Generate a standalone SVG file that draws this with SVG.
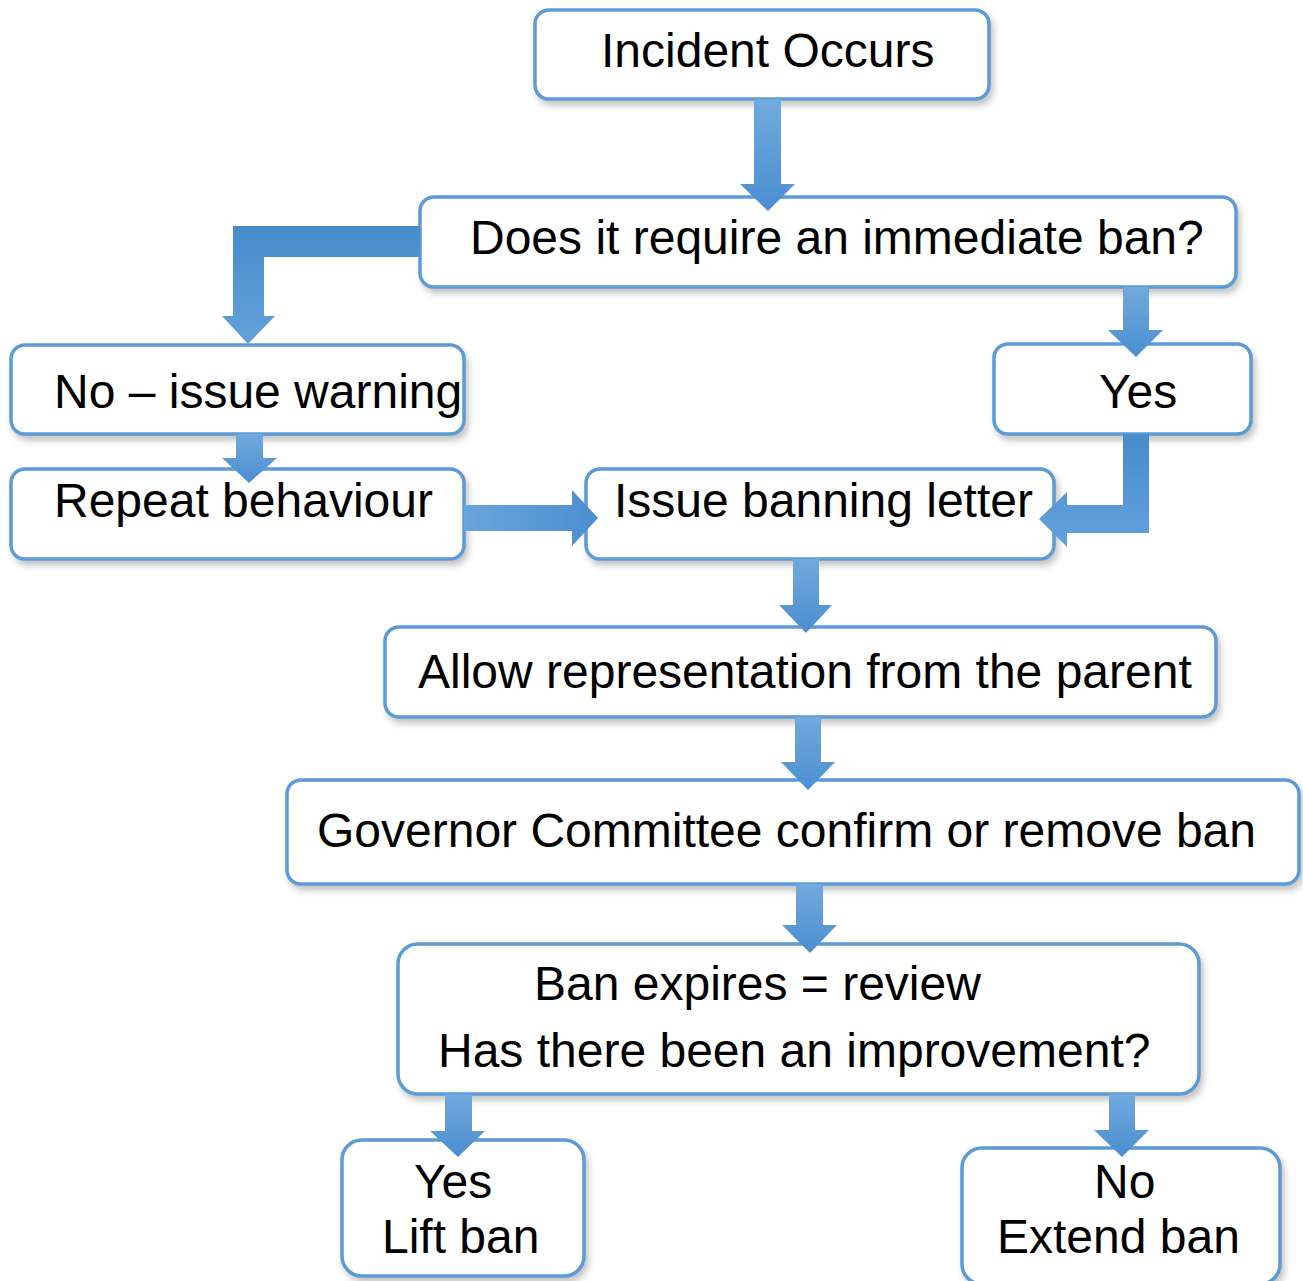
<svg xmlns="http://www.w3.org/2000/svg" width="1303" height="1281" viewBox="0 0 1303 1281">
<defs>
<filter id="sh" x="-5%" y="-10%" width="112%" height="130%">
<feDropShadow dx="3" dy="5" stdDeviation="3" flood-color="#7f7f7f" flood-opacity="0.45"/>
</filter>
<linearGradient id="gv" x1="0" y1="0" x2="0" y2="1">
<stop offset="0" stop-color="#72A9DD"/>
<stop offset="1" stop-color="#4A8ED0"/>
</linearGradient>
<linearGradient id="gh" x1="1" y1="0" x2="0" y2="0">
<stop offset="0" stop-color="#4A8ECF"/>
<stop offset="1" stop-color="#6AA5DC"/>
</linearGradient>
<linearGradient id="ge" x1="0" y1="0" x2="0" y2="1">
<stop offset="0" stop-color="#478BCB"/>
<stop offset="1" stop-color="#64A1DB"/>
</linearGradient>
</defs>
<style>
.box{fill:#fff;stroke:#5B9BD5;stroke-width:3.5;filter:url(#sh)}
.t{font-family:"Liberation Sans",Arial,sans-serif;font-size:48px;fill:#000}
.av{fill:url(#gv)}
.ah{fill:url(#gh)}
.ae{fill:url(#ge)}
</style>
<rect width="1303" height="1281" fill="#fff"/>
<g id="n1"><rect class="box" x="535" y="10" width="454" height="89" rx="14"/><text class="t" x="601" y="67">Incident Occurs</text></g>
<g id="n2"><rect class="box" x="420" y="197" width="816" height="90" rx="14"/><text class="t" x="470" y="254">Does it require an immediate ban?</text></g>
<g id="n3"><rect class="box" x="11" y="345" width="453" height="89" rx="14"/><text class="t" x="54" y="408">No – issue warning</text></g>
<g id="n4"><rect class="box" x="11" y="469" width="453" height="90" rx="14"/><text class="t" x="54" y="517">Repeat behaviour</text></g>
<g id="n5"><rect class="box" x="994" y="344" width="257" height="90" rx="14"/><text class="t" x="1099" y="408">Yes</text></g>
<g id="n6"><rect class="box" x="586" y="469" width="468" height="90" rx="14"/><text class="t" x="614" y="517">Issue banning letter</text></g>
<g id="n7"><rect class="box" x="385" y="627" width="831" height="90" rx="14"/><text class="t" x="418" y="688">Allow representation from the parent</text></g>
<g id="n8"><rect class="box" x="287" y="780" width="1012" height="104" rx="14"/><text class="t" x="317" y="847">Governor Committee confirm or remove ban</text></g>
<g id="n9"><rect class="box" x="398" y="944" width="801" height="150" rx="20"/><text class="t" x="534" y="1000">Ban expires = review</text><text class="t" x="438" y="1067">Has there been an improvement?</text></g>
<g id="n10"><rect class="box" x="342" y="1140" width="242" height="136" rx="20"/><text class="t" x="414" y="1198">Yes</text><text class="t" x="382" y="1253">Lift ban</text></g>
<g id="n11"><rect class="box" x="962" y="1148" width="318" height="136" rx="20"/><text class="t" x="1094" y="1198">No</text><text class="t" x="997" y="1253">Extend ban</text></g>
<g id="connectors">
<path class="av" d="M754,99 L781,99 L781,184 L795,184 L768,211 L740,184 L754,184 Z"/>
<path class="ae" d="M420,226 L233,226 L233,316 L222,316 L248,344 L275,316 L264,316 L264,257 L420,257 Z"/>
<path class="av" d="M236,434 L263,434 L263,458 L277,458 L249,483 L222,458 L236,458 Z"/>
<path class="av" d="M1123,287 L1149,287 L1149,330 L1163,330 L1136,357 L1108,330 L1123,330 Z"/>
<path class="ae" d="M1123,434 L1149,434 L1149,533 L1067,533 L1067,547 L1039,519 L1067,492 L1067,505 L1123,505 Z"/>
<path class="ah" d="M464,505 L572,505 L572,490 L598,518 L572,546 L572,531 L464,531 Z"/>
<path class="av" d="M793,559 L819,559 L819,605 L832,605 L806,633 L779,605 L793,605 Z"/>
<path class="av" d="M795,717 L821,717 L821,762 L835,762 L808,790 L781,762 L795,762 Z"/>
<path class="av" d="M796,884 L823,884 L823,925 L837,925 L810,953 L782,925 L796,925 Z"/>
<path class="av" d="M445,1094 L472,1094 L472,1131 L485,1131 L458,1157 L430,1131 L445,1131 Z"/>
<path class="av" d="M1109,1094 L1135,1094 L1135,1130 L1149,1130 L1122,1157 L1094,1130 L1109,1130 Z"/>
</g>
</svg>
